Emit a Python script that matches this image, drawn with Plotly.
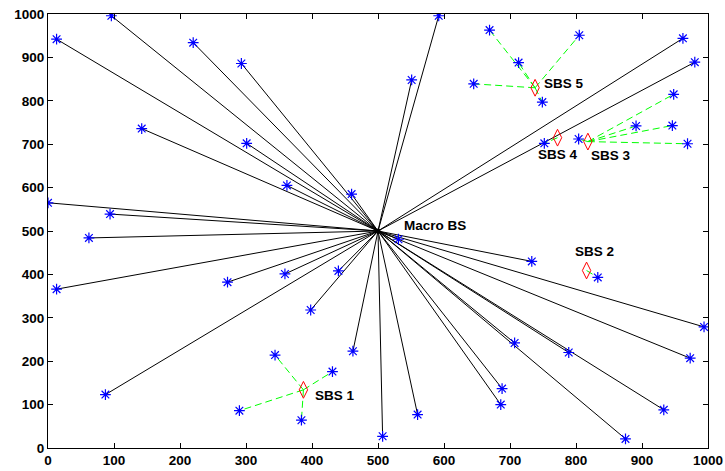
import plotly.graph_objects as go

# ---- data ----
macro_pos = [500, 500]
macro_label = "Macro BS"

macro_ue_x = [96, 13, 220, 293, 142, 301, 0, 94, 62, 13, 272, 87, 359, 440, 398, 462,
              507, 560, 688, 686, 707, 789, 875, 933, 973, 994, 733, 531, 460, 362,
              551, 592, 962, 980]
macro_ue_y = [996, 942, 934, 886, 736, 702, 565, 539, 484, 366, 382, 123, 401, 408, 318, 223,
              27, 77, 137, 100, 242, 220, 21, 88, 207, 279, 430, 481, 585, 605,
              848, 996, 944, 889]

sbs_x = [387, 816, 818, 772, 738]
sbs_y = [134, 409, 706, 715, 830]
sbs_labels = ["SBS 1", "SBS 2", "SBS 3", "SBS 4", "SBS 5"]

sbs_ue_x = [
    [344, 431, 290, 384],
    [833],
    [948, 891, 946, 969, 804],
    [752],
    [669, 713, 805, 645, 749],
]
sbs_ue_y = [
    [214, 176, 86, 64],
    [393],
    [815, 742, 743, 701, 712],
    [702],
    [963, 888, 951, 839, 797],
]

tick_vals = [0, 100, 200, 300, 400, 500, 600, 700, 800, 900, 1000]

# ---- figure ----
fig = go.Figure()

# black lines macro -> UE
bx, by = [], []
for x, y in zip(macro_ue_x, macro_ue_y):
    bx += [macro_pos[0], x, None]
    by += [macro_pos[1], y, None]
fig.add_trace(go.Scatter(x=bx, y=by, mode="lines",
                         line=dict(color="black", width=1), hoverinfo="skip"))

# green dashed lines SBS -> UE
gx, gy = [], []
for sx, sy, uxs, uys in zip(sbs_x, sbs_y, sbs_ue_x, sbs_ue_y):
    for ux, uy in zip(uxs, uys):
        gx += [sx, ux, None]
        gy += [sy, uy, None]
fig.add_trace(go.Scatter(x=gx, y=gy, mode="lines",
                         line=dict(color="#00ff00", width=1, dash="7px,4px"), hoverinfo="skip"))

# UE markers
all_ux = list(macro_ue_x) + [v for lst in sbs_ue_x for v in lst]
all_uy = list(macro_ue_y) + [v for lst in sbs_ue_y for v in lst]
fig.add_trace(go.Scatter(x=all_ux, y=all_uy, mode="markers",
                         marker=dict(symbol="asterisk-open", size=9, color="#0000ff",
                                     line=dict(color="#0000ff", width=1.2))))

# SBS markers
fig.add_trace(go.Scatter(x=sbs_x, y=sbs_y, mode="markers",
                         marker=dict(symbol="diamond-tall-open", size=12, color="#ff0000",
                                     line=dict(color="#ff0000", width=1))))

# macro marker
fig.add_trace(go.Scatter(x=[macro_pos[0]], y=[macro_pos[1]], mode="markers",
                         marker=dict(symbol="circle", size=5, color="black")))

label_font = dict(family="Liberation Sans", size=13.5, color="black", weight="bold")
shifts = [(10, -6), (-14, 19), (1, -14), (-22, -17), (7, 4)]
annotations = [dict(x=macro_pos[0], y=macro_pos[1], text=macro_label, showarrow=False,
                    xanchor="left", yanchor="middle", xshift=24, yshift=6, font=label_font)]
for sx, sy, lab, (dx, dy) in zip(sbs_x, sbs_y, sbs_labels, shifts):
    annotations.append(dict(x=sx, y=sy, text=lab, showarrow=False, xanchor="left",
                            yanchor="middle", xshift=dx, yshift=dy, font=label_font))

axis_common = dict(range=[0, 1000], tickvals=tick_vals, ticks="inside", ticklen=5,
                   tickcolor="black", showline=True, linecolor="black", linewidth=1,
                   mirror="ticks", showgrid=False, zeroline=False, automargin=False,
                   tickfont=dict(family="Liberation Sans", size=13.5, color="black", weight="bold"))

fig.update_layout(
    width=725, height=471,
    margin=dict(l=48, r=17, t=14, b=23),
    paper_bgcolor="white", plot_bgcolor="white",
    showlegend=False,
    xaxis=axis_common,
    yaxis=dict(axis_common),
    annotations=annotations,
)

fig.write_html("out.html")
